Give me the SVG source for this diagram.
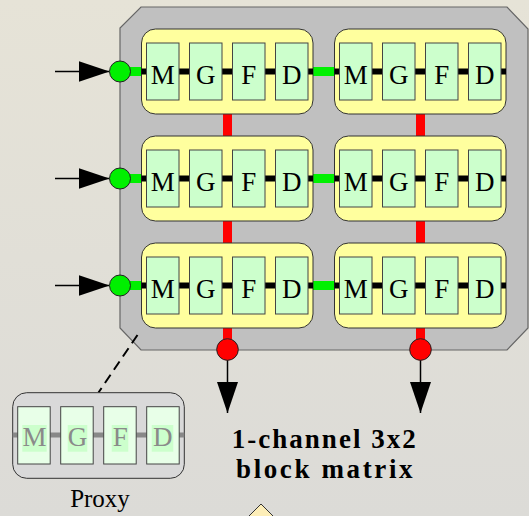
<svg xmlns="http://www.w3.org/2000/svg" width="529" height="516" viewBox="0 0 529 516">
  <defs>
    <linearGradient id="bg" x1="0" y1="0" x2="0" y2="1">
      <stop offset="0" stop-color="#e6e3d7"/>
      <stop offset="1" stop-color="#dcdbd7"/>
    </linearGradient>
    <marker id="arr" viewBox="0 0 31 21" refX="31" refY="10.5" markerWidth="31" markerHeight="21" markerUnits="userSpaceOnUse" orient="auto">
      <path d="M0,0 L31,10.5 L0,21 Z" fill="#000"/>
    </marker>
    <g id="cells">
      <line x1="0" y1="42.5" x2="171.5" y2="42.5" class="bus"/>
      <rect x="5" y="14" width="32.5" height="57" class="cell"/>
      <rect x="48" y="14" width="32.5" height="57" class="cell"/>
      <rect x="91" y="14" width="32.5" height="57" class="cell"/>
      <rect x="134" y="14" width="32.5" height="57" class="cell"/>
      <text x="21.25" y="54.5" class="lt">M</text>
      <text x="64.25" y="54.5" class="lt">G</text>
      <text x="107.25" y="54.5" class="lt">F</text>
      <text x="150.25" y="54.5" class="lt">D</text>
    </g>
  </defs>
  <style>
    .blk { fill: #ffff9e; stroke: #333; stroke-width: 1; }
    .cell { fill: #ccffcc; stroke: #444; stroke-width: 1; }
    .bus { stroke: #000; stroke-width: 6; }
    .lt { font-family: "Liberation Serif", serif; font-size: 27px; text-anchor: middle; fill: #000; }
    .glink { stroke: #00f000; stroke-width: 9; }
    .rlink { stroke: #ff0000; stroke-width: 9; }
    .gport { fill: #00f000; stroke: #222; stroke-width: 1; }
    .rport { fill: #ff0000; stroke: #222; stroke-width: 1; }
    .arrow { stroke: #000; stroke-width: 1.5; fill: none; marker-end: url(#arr); }
    .pcell { fill: #e8ffe8; stroke: #444; stroke-width: 1; }
    .phl { fill: #ccffcc; }
    .plt { font-family: "Liberation Serif", serif; font-size: 27px; text-anchor: middle; fill: #8a8a8a; }
  </style>

  <rect x="0" y="0" width="529" height="516" fill="url(#bg)"/>

  <!-- matrix container -->
  <g id="matrix">
    <polygon points="141,7 507,7 528,29 528,328 507,350 141,350 120,328 120,28" fill="#c0c0c0" stroke="#666" stroke-width="1.2"/>
  </g>

  <!-- connectors -->
  <g id="connectors">
    <line x1="312" y1="71.5" x2="335" y2="71.5" class="glink"/>
    <line x1="312" y1="178.5" x2="335" y2="178.5" class="glink"/>
    <line x1="312" y1="285.5" x2="335" y2="285.5" class="glink"/>
    <line x1="120" y1="71.5" x2="142" y2="71.5" class="glink"/>
    <line x1="120" y1="178.5" x2="142" y2="178.5" class="glink"/>
    <line x1="120" y1="285.5" x2="142" y2="285.5" class="glink"/>
    <line x1="227.5" y1="113" x2="227.5" y2="137" class="rlink"/>
    <line x1="227.5" y1="220" x2="227.5" y2="244" class="rlink"/>
    <line x1="227.5" y1="327" x2="227.5" y2="349" class="rlink"/>
    <line x1="420.5" y1="113" x2="420.5" y2="137" class="rlink"/>
    <line x1="420.5" y1="220" x2="420.5" y2="244" class="rlink"/>
    <line x1="420.5" y1="327" x2="420.5" y2="349" class="rlink"/>
    <line x1="55" y1="71.5" x2="109.5" y2="71.5" class="arrow"/>
    <line x1="55" y1="178.5" x2="109.5" y2="178.5" class="arrow"/>
    <line x1="55" y1="285.5" x2="109.5" y2="285.5" class="arrow"/>
    <line x1="227.5" y1="360" x2="227.5" y2="413" class="arrow"/>
    <line x1="420.5" y1="360" x2="420.5" y2="413" class="arrow"/>
    <line x1="137.5" y1="335" x2="98.5" y2="392.5" stroke="#000" stroke-width="2" stroke-dasharray="10,6"/>
  </g>

  <!-- blocks -->
  <g id="block-r1c1"><rect x="141.5" y="29" width="171.5" height="85" rx="14" class="blk"/><use href="#cells" x="141.5" y="29"/></g>
  <g id="block-r1c2"><rect x="334.5" y="29" width="171.5" height="85" rx="14" class="blk"/><use href="#cells" x="334.5" y="29"/></g>
  <g id="block-r2c1"><rect x="141.5" y="136" width="171.5" height="85" rx="14" class="blk"/><use href="#cells" x="141.5" y="136"/></g>
  <g id="block-r2c2"><rect x="334.5" y="136" width="171.5" height="85" rx="14" class="blk"/><use href="#cells" x="334.5" y="136"/></g>
  <g id="block-r3c1"><rect x="141.5" y="243" width="171.5" height="85" rx="14" class="blk"/><use href="#cells" x="141.5" y="243"/></g>
  <g id="block-r3c2"><rect x="334.5" y="243" width="171.5" height="85" rx="14" class="blk"/><use href="#cells" x="334.5" y="243"/></g>

  <!-- ports -->
  <g id="in1"><circle cx="120" cy="71.5" r="10.5" class="gport"/></g>
  <g id="in2"><circle cx="120" cy="178.5" r="10.5" class="gport"/></g>
  <g id="in3"><circle cx="120" cy="285.5" r="10.5" class="gport"/></g>
  <g id="out1"><circle cx="227.5" cy="349.5" r="10.8" class="rport"/></g>
  <g id="out2"><circle cx="420.5" cy="349.5" r="10.8" class="rport"/></g>

  <!-- proxy -->
  <g id="proxy">
    <rect x="12.7" y="392.7" width="171.6" height="85.6" rx="14" fill="#d9d9d9" stroke="#333" stroke-width="1"/>
    <line x1="12.7" y1="435" x2="184.3" y2="435" stroke="#888" stroke-width="5"/>
    <rect x="17.7" y="406.7" width="32.5" height="57.3" class="pcell"/>
    <rect x="60.7" y="406.7" width="32.5" height="57.3" class="pcell"/>
    <rect x="103.7" y="406.7" width="32.5" height="57.3" class="pcell"/>
    <rect x="146.7" y="406.7" width="32.5" height="57.3" class="pcell"/>
    <rect x="22.3" y="425" width="24.4" height="26.7" class="phl"/>
    <rect x="67.7" y="425" width="19.6" height="26.7" class="phl"/>
    <rect x="111.7" y="425" width="16.6" height="26.7" class="phl"/>
    <rect x="151.7" y="425" width="21.6" height="26.7" class="phl"/>
    <text x="34.5" y="446" class="plt">M</text>
    <text x="77.5" y="446" class="plt">G</text>
    <text x="120.2" y="446" class="plt">F</text>
    <text x="162.7" y="446" class="plt">D</text>
    <text x="100" y="506.7" font-family="Liberation Serif, serif" font-size="25" text-anchor="middle" fill="#000">Proxy</text>
  </g>

  <!-- caption -->
  <g id="caption" font-family="Liberation Serif, serif" font-weight="bold" font-size="27" fill="#000">
    <text x="231.7" y="448.3" textLength="184" lengthAdjust="spacing">1-channel 3x2</text>
    <text x="236" y="478.3" textLength="176.5" lengthAdjust="spacing">block matrix</text>
  </g>

  <!-- partial shape at bottom -->
  <g id="bottom-shape">
    <polygon points="261,504 277,520 261,536 245,520" fill="#fdeeb8" stroke="#333" stroke-width="1"/>
  </g>
</svg>
